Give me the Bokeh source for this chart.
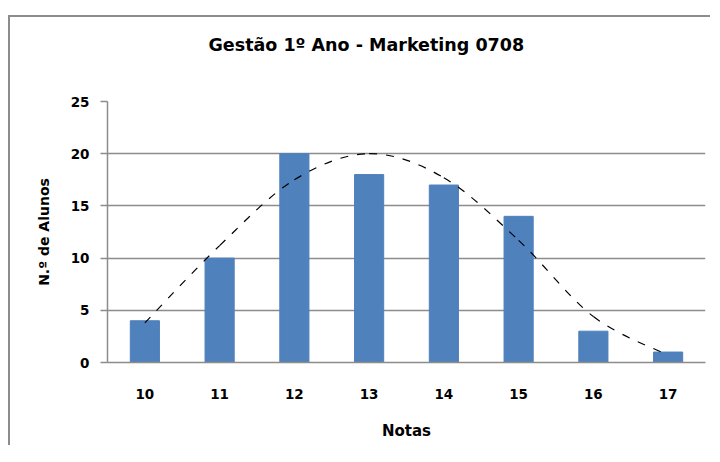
from bokeh.plotting import figure
from bokeh.models import Range1d, FixedTicker, LinearAxis, Title
from bokeh.embed import file_html
from bokeh.resources import INLINE

# Data
notas = [10, 11, 12, 13, 14, 15, 16, 17]
alunos = [4, 10, 20, 18, 17, 14, 3, 1]
curva = [3.8, 11.2, 17.5, 20.0, 17.7, 11.7, 4.4, 0.7]
y_ticks = [0, 5, 10, 15, 20, 25]
titulo = "Gestão 1º Ano - Marketing 0708"

FONT = "'DejaVu Sans', Verdana, sans-serif"
GRID = "#8c8c8c"

p = figure(width=702, height=430, output_backend="svg", toolbar_location=None,
           x_range=Range1d(9.5, 17.5), y_range=Range1d(0, 25),
           min_border_left=97, min_border_right=7, min_border_top=84, min_border_bottom=85)
p.styles = {"border-left": "2px solid #8c8c8c", "border-top": "2px solid #8c8c8c",
            "margin-top": "15px", "margin-left": "8px"}

p.outline_line_color = None
p.background_fill_color = "white"
p.border_fill_color = "white"

# Spacer above the frame (blank axis label), then the title above it
spacer = LinearAxis(axis_label=" ", ticker=FixedTicker(ticks=[]),
                    axis_line_color=None, major_tick_line_color=None,
                    minor_tick_line_color=None, major_tick_out=0, major_tick_in=0,
                    major_label_text_font_size="0px")
spacer.axis_label_text_font = FONT
spacer.axis_label_text_font_size = "17.5px"
spacer.axis_label_standoff = 24
p.add_layout(spacer, "above")

p.add_layout(Title(text=titulo, align="left", offset=101, standoff=0,
                   text_font=FONT, text_font_size="17.5px", text_font_style="bold",
                   text_color="black"), "above")

# Bars
p.vbar(x=notas, top=alunos, width=0.39, fill_color="#4f81bd", line_color="#4f81bd")

# Smoothed dashed curve (Catmull-Rom -> cubic Bezier through the data points)
n = len(notas)
x0, y0, x1, y1, cx0, cy0, cx1, cy1 = [], [], [], [], [], [], [], []
for i in range(n - 1):
    ip = max(i - 1, 0)
    inx = min(i + 2, n - 1)
    x0.append(notas[i]); y0.append(curva[i])
    x1.append(notas[i + 1]); y1.append(curva[i + 1])
    cx0.append(notas[i] + (notas[i + 1] - notas[ip]) / 6)
    cy0.append(curva[i] + (curva[i + 1] - curva[ip]) / 6)
    cx1.append(notas[i + 1] - (notas[inx] - notas[i]) / 6)
    cy1.append(curva[i + 1] - (curva[inx] - curva[i]) / 6)
p.bezier(x0=x0, y0=y0, x1=x1, y1=y1, cx0=cx0, cy0=cy0, cx1=cx1, cy1=cy1,
         line_color="black", line_width=1.2, line_dash="8 9")

# Grid
p.xgrid.grid_line_color = None
p.ygrid.grid_line_color = GRID
p.ygrid.grid_line_width = 1.5
p.ygrid.ticker = FixedTicker(ticks=y_ticks)

# Y axis
p.yaxis.ticker = FixedTicker(ticks=y_ticks)
p.yaxis.axis_line_color = GRID
p.yaxis.axis_line_width = 1.5
p.yaxis.major_tick_line_color = GRID
p.yaxis.major_tick_line_width = 1.5
p.yaxis.major_tick_out = 7
p.yaxis.major_tick_in = 0
p.yaxis.minor_tick_line_color = None
p.yaxis.major_label_text_font = FONT
p.yaxis.major_label_text_font_size = "13.5px"
p.yaxis.major_label_text_font_style = "bold"
p.yaxis.major_label_text_color = "black"
p.yaxis.major_label_standoff = 11
p.yaxis.axis_label = "N.º de Alunos"
p.yaxis.axis_label_text_font = FONT
p.yaxis.axis_label_text_font_size = "14px"
p.yaxis.axis_label_text_font_style = "bold"
p.yaxis.axis_label_text_color = "black"
p.yaxis.axis_label_standoff = 16

# X axis (bottom)
xax = p.below[0]
xax.ticker = FixedTicker(ticks=notas)
xax.axis_line_color = GRID
xax.axis_line_width = 1.5
xax.major_tick_line_color = None
xax.minor_tick_line_color = None
xax.major_tick_out = 0
xax.major_tick_in = 0
xax.major_label_text_font = FONT
xax.major_label_text_font_size = "13.5px"
xax.major_label_text_font_style = "bold"
xax.major_label_text_color = "black"
xax.major_label_standoff = 26
xax.axis_label = "Notas"
xax.axis_label_text_font = FONT
xax.axis_label_text_font_size = "15px"
xax.axis_label_text_font_style = "bold"
xax.axis_label_text_color = "black"
xax.axis_label_standoff = 20

open("out.html", "w").write(file_html(p, INLINE))
